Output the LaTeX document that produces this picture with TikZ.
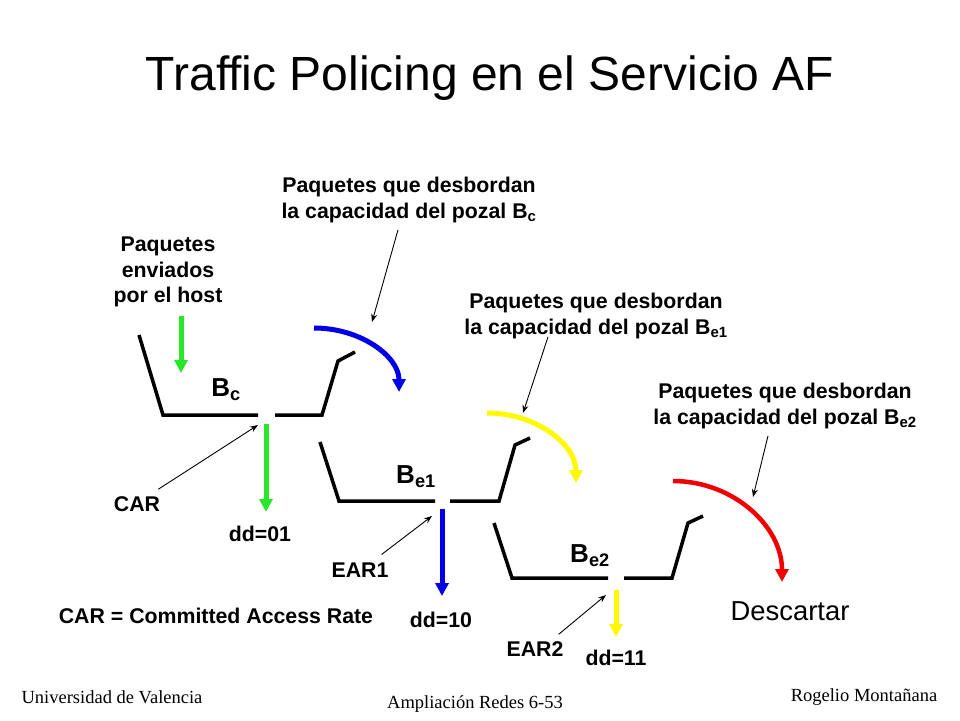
\documentclass[tikz,border=0pt]{standalone}
\usepackage{fontspec}
\setmainfont{Liberation Sans}
\newfontfamily\pieserif{Liberation Serif}
\usetikzlibrary{arrows.meta}
\definecolor{verdeflujo}{RGB}{40,230,40}
\definecolor{azulflujo}{RGB}{0,0,230}
\definecolor{amarilloflujo}{RGB}{255,250,0}
\definecolor{rojoflujo}{RGB}{240,0,0}

\begin{document}
\begin{tikzpicture}[x=1pt, y=-1pt,
            pozal/.style={line width=3.5pt, black},
            flujo/.style={line width=5pt, -{Triangle[width=13pt,length=13pt]}},
            nota/.style={line width=0.9pt, -{Stealth[length=8pt,width=6pt]}},
            etiqueta/.style={font=\fontsize{21.3}{25.5}\selectfont\bfseries, align=center, inner sep=1pt},
            nombrepozal/.style={font=\fontsize{26}{26}\selectfont\bfseries, inner sep=1pt},
            pie/.style={font=\pieserif\fontsize{18.5}{18.5}\selectfont, inner sep=0pt},
        ]
        \useasboundingbox (0,0) rectangle (960,720);

        \node[font=\fontsize{48}{48}\selectfont] (titulo) at (490,78) {Traffic Policing en el Servicio AF};

        % pozales
        \draw[pozal] (139,335) -- (163,415) -- (258,415);
        \draw[pozal] (275,415) -- (322,415) -- (338,361) -- (355,352);
        \draw[pozal] (320,442) -- (339,501) -- (435,501);
        \draw[pozal] (450,501) -- (499,501) -- (515,445) -- (530,438);
        \draw[pozal] (494,523) -- (512,578) -- (608,578);
        \draw[pozal] (624,578) -- (672,578) -- (688,523) -- (703,516);

        \node[nombrepozal] (bc) at (226,390) {B\textsubscript{c}};
        \node[nombrepozal] (be1) at (416,477) {B\textsubscript{e1}};
        \node[nombrepozal] (be2) at (590,556) {B\textsubscript{e2}};

        % flujos
        \coordinate (entrada) at (181,316);
        \coordinate (bcarriba) at (181,373);
        \coordinate (bcsalida) at (266,424);
        \coordinate (dd01) at (266,512);
        \coordinate (beasalida) at (442,509);
        \coordinate (dd10) at (442,596);
        \coordinate (bebsalida) at (616,590);
        \coordinate (dd11) at (616,637);
        \coordinate (bcdesborde) at (314,328);
        \coordinate (beadesborde) at (487,413);
        \coordinate (bebdesborde) at (673,481);

        \draw[flujo, verdeflujo] (entrada) -- (bcarriba);
        \draw[flujo, verdeflujo] (bcsalida) -- (dd01);
        \draw[flujo, azulflujo] (beasalida) -- (dd10);
        \draw[flujo, amarilloflujo] (bebsalida) -- (dd11);
        \draw[flujo, azulflujo] (bcdesborde) arc[start angle=-90, end angle=0, x radius=85, y radius=64];
        \draw[flujo, amarilloflujo] (beadesborde) arc[start angle=-90, end angle=0, x radius=89, y radius=70];
        \draw[flujo, rojoflujo, line width=4.5pt] (bebdesborde) arc[start angle=-90, end angle=0, x radius=109, y radius=101];

        % textos
        \node[etiqueta] (host) at (168,272) {Paquetes\\enviados\\por el host};
        \node[etiqueta] (desbc) at (409,200) {Paquetes que desbordan\\la capacidad del pozal B\textsubscript{c}};
        \node[etiqueta] (desbea) at (596,316) {Paquetes que desbordan\\la capacidad del pozal B\textsubscript{e1}};
        \node[etiqueta] (desbeb) at (785,406) {Paquetes que desbordan\\la capacidad del pozal B\textsubscript{e2}};
        \node[etiqueta] (car) at (137,504) {CAR};
        \node[etiqueta] (ear1) at (360,570) {EAR1};
        \node[etiqueta] (ear2) at (535,649) {EAR2};
        \node[etiqueta] (t01) at (260,534) {dd=01};
        \node[etiqueta] (t10) at (441,620) {dd=10};
        \node[etiqueta] (t11) at (616,658) {dd=11};
        \node[etiqueta] (leyenda) at (216,616) {CAR = Committed Access Rate};
        \node[font=\fontsize{27.4}{27.4}\selectfont] (descartar) at (790,611) {Descartar};

        % notas
        \coordinate (pbc) at (372,322);
        \coordinate (pbea) at (523,413);
        \coordinate (pbeb) at (753,497);
        \coordinate (pcar) at (258,425);
        \coordinate (pear1) at (432,516);
        \coordinate (pear2) at (606,595);

        \draw[nota] (desbc.south) ++(-11,6) -- (pbc);
        \draw[nota] (desbea.south) ++(-48,-3) -- (pbea);
        \draw[nota] (desbeb.south) ++(-17,6) -- (pbeb);
        \draw[nota] (car.north east) ++(-3,-6) -- (pcar);
        \draw[nota] (ear1.north east) ++(-8,-7) -- (pear1);
        \draw[nota] (ear2.north east) ++(-6,-6) -- (pear2);

        % pie
        \node[pie] (universidad) at (112,697) {Universidad de Valencia};
        \node[pie] (asignatura) at (475,704) {Ampliación Redes 6-53};
        \node[pie] (autor) at (864,697) {Rogelio Montañana};

    \end{tikzpicture}
\end{document}
